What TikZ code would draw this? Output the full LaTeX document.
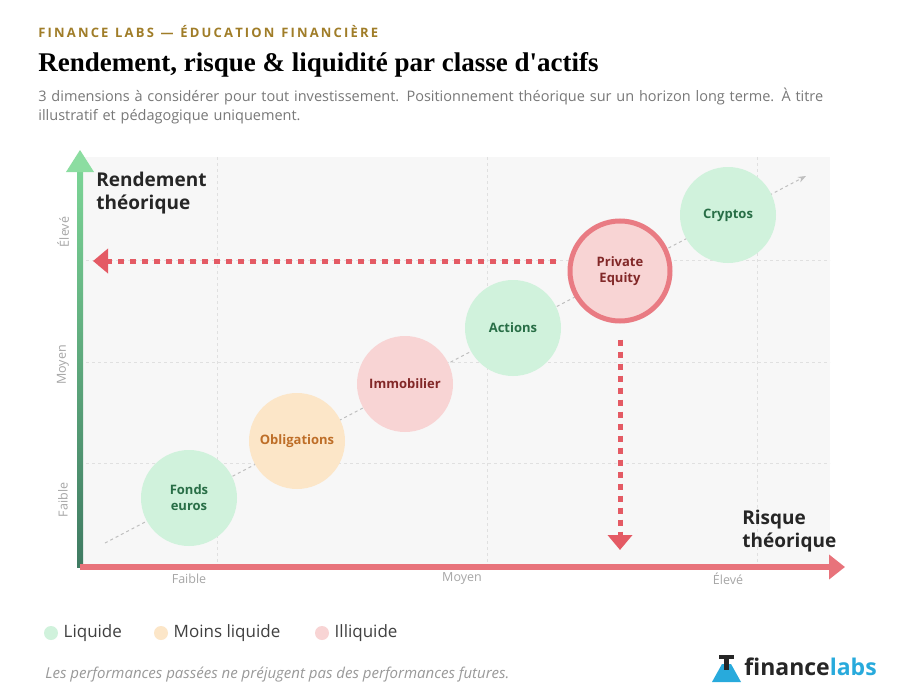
\documentclass[tikz,border=0pt]{standalone}
\usepackage{fontspec}
\setmainfont{Open Sans}
\newfontfamily\titlefont{Liberation Serif}
\usetikzlibrary{arrows.meta}
\definecolor{gold}{RGB}{160,125,40}
\definecolor{subgrey}{RGB}{120,120,120}
\definecolor{liqfill}{RGB}{208,242,220}
\definecolor{liqtext}{RGB}{40,110,70}
\definecolor{midfill}{RGB}{252,230,200}
\definecolor{midtext}{RGB}{190,110,40}
\definecolor{illfill}{RGB}{248,212,212}
\definecolor{illtext}{RGB}{130,40,40}
\definecolor{axred}{RGB}{228,90,100}
\definecolor{axgreen}{RGB}{90,175,140}
\definecolor{logoblue}{RGB}{40,170,220}
\tikzset{every picture/.style={line width=0.75pt}}
\tikzset{
  asset/.style={circle,minimum size=96pt,inner sep=0pt,align=center,font=\fontsize{13}{16}\selectfont\bfseries},
  tick/.style={font=\fontsize{12.5}{14}\selectfont,text=gray!70},
  legend/.style={font=\fontsize{17}{20}\selectfont,text=black!75,anchor=west},
}
\begin{document}
\begin{tikzpicture}[x=1pt,y=1pt,yscale=-1]
\useasboundingbox[fill=white] (0,0) rectangle (900,693);

% Header
\node (kicker) [anchor=west,text=gold,font=\fontsize{13}{15}\selectfont\bfseries,inner sep=0pt] at (38,32) {F\,I\,N\,A\,N\,C\,E\ \ L\,A\,B\,S\ \ —\ \ É\,D\,U\,C\,A\,T\,I\,O\,N\ \ F\,I\,N\,A\,N\,C\,I\,È\,R\,E};
\node (title) [anchor=west,font=\titlefont\bfseries\fontsize{27}{30}\selectfont,inner sep=0pt] at (38,65) {Rendement, risque \& liquidité par classe d'actifs};
\node (subtitle) [anchor=north west,text=subgrey,font=\fontsize{14.5}{19}\selectfont,align=left,text width=850pt,inner sep=0pt] at (38,88) {3 dimensions à considérer pour tout investissement. Positionnement théorique sur un horizon long terme. À titre\\illustratif et pédagogique uniquement.};

% Plot area
\fill[black!3] (80,157) rectangle (830,567);
\foreach \gx in {217,487,757}
  \draw[black!12,dashed,line width=0.6pt] (\gx,157) -- (\gx,567);
\foreach \gy in {260,362,463}
  \draw[black!12,dashed,line width=0.6pt] (80,\gy) -- (830,\gy);
\coordinate (trendA) at (105,543);
\coordinate (trendB) at (806,176);
\draw[black!25,dashed,line width=1pt,-{Stealth[length=8pt]}] (trendA) -- (trendB);

% Axes
\coordinate (origin) at (80,567);
\coordinate (xend) at (845,567);
\shade[top color=green!25!axgreen!70,bottom color=axgreen!70!black] (77,165) rectangle (83,567);
\fill[green!30!axgreen!60] (66,172) -- (80,150) -- (94,172) -- cycle;
\draw[axred!85,line width=6pt,-{Triangle[length=16pt,width=24pt]}] (origin) -- (xend);

% Assets
\node (fonds) [asset,fill=liqfill,text=liqtext] at (189,498) {Fonds\\euros};
\node (oblig) [asset,fill=midfill,text=midtext] at (297,441) {Obligations};
\node (immo) [asset,fill=illfill,text=illtext] at (405,384) {Immobilier};
\node (actions) [asset,fill=liqfill,text=liqtext] at (513,328) {Actions};
\node (pe) [asset,minimum size=100pt,fill=illfill,text=illtext,draw=axred!80,line width=5pt] at (620,271) {\fontseries{sb}\selectfont Private\\\fontseries{sb}\selectfont Equity};
\node (cryptos) [asset,fill=liqfill,text=liqtext] at (728,215) {Cryptos};

% Projections
\coordinate (peleft) at (93,261);
\coordinate (pedown) at (620,550);
\draw[axred,line width=5pt,dash pattern=on 6pt off 6pt,-{Triangle[length=15pt,width=24pt]}] (pe.west) ++(-12,-10) -- (peleft);
\draw[axred,line width=5pt,dash pattern=on 6pt off 6pt,-{Triangle[length=15pt,width=24pt]}] (pe.south) ++(0,16) -- (pedown);

% Axis labels
\node (ylab) [anchor=north west,align=left,font=\fontsize{19}{23}\selectfont\bfseries,text=black!85,inner sep=0pt] at (96,172) {Rendement\\théorique};
\node (xlab) [anchor=north west,align=left,font=\fontsize{19}{23}\selectfont\bfseries,text=black!85,inner sep=0pt] at (742,510) {Risque\\théorique};
\node (xt1) [tick] at (189,579) {Faible};
\node (xt2) [tick] at (462,579) {Moyen};
\node (xt3) [tick] at (728,579) {Élevé};
\node (yt1) [tick,rotate=90] at (63,500) {Faible};
\node (yt2) [tick,rotate=90] at (63,365) {Moyen};
\node (yt3) [tick,rotate=90] at (63,232) {Élevé};

% Legend
\fill[liqfill] (51,633) circle (7);
\node (lg1) [legend] at (60,633) {Liquide};
\fill[midfill] (161,633) circle (7);
\node (lg2) [legend] at (170,633) {Moins liquide};
\fill[illfill] (322,633) circle (7);
\node (lg3) [legend] at (331,633) {Illiquide};

% Footer
\node (note) [anchor=west,font=\fontsize{15}{18}\selectfont\itshape,text=black!40,inner sep=0pt] at (45,675) {Les performances passées ne préjugent pas des performances futures.};
\fill[logoblue] (712,682) -- (722,664) -- (731,664) -- (741,682) -- cycle;
\fill[black!85] (719,655) rectangle (734,659);
\fill[black!85] (724,659) rectangle (729,670);
\node (logo) [anchor=west,font=\fontsize{23}{26}\selectfont\bfseries,inner sep=1pt] at (743,667) {\textcolor{black!85}{finance}\textcolor{logoblue}{labs}};
\end{tikzpicture}
\end{document}
